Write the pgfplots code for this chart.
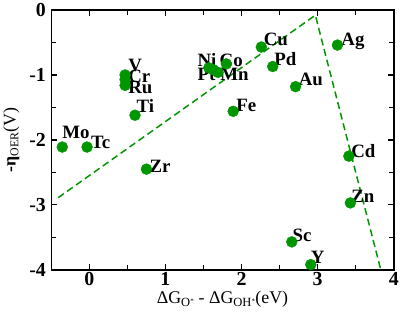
\documentclass[border=0pt]{standalone}
\usepackage{pgfplots}
\pgfplotsset{compat=1.18}
\usepackage{fontspec}
\setmainfont{Liberation Serif}
\definecolor{dgreen}{RGB}{0,150,0}
\pgfplotstableread{
x y
-0.356 -2.11
-0.03 -2.11
0.47 -1.00
0.47 -1.07
0.47 -1.16
0.60 -1.62
0.75 -2.45
1.57 -0.89
1.63 -0.92
1.69 -0.96
1.80 -0.83
1.89 -1.56
2.26 -0.57
2.41 -0.87
2.71 -1.18
3.26 -0.54
3.41 -2.25
3.43 -2.97
2.66 -3.57
2.91 -3.92
}\metals
\begin{document}
\begin{tikzpicture}
\begin{axis}[
  scale only axis, width=344bp, height=261bp,
  xmin=-0.5, xmax=4, ymin=-4, ymax=0,
  xtick={0,1,2,3,4}, ytick={-4,-3,-2,-1,0},
  minor xtick={-0.5,0.5,1.5,2.5,3.5}, minor ytick={-3.5,-2.5,-1.5,-0.5},
  tick align=inside, ticks=both,
  major tick length=6bp, minor tick length=5bp,
  every tick/.style={black, line width=1.2bp},
  axis line style={line width=1.6bp},
  /pgf/number format/assume math mode=true,
  ticklabel style={font=\bfseries\fontsize{20}{22}\selectfont},
  xticklabel style={yshift=1bp},
  yticklabel style={xshift=-2bp},
  label style={font=\fontsize{18}{20}\selectfont},
  xlabel={ΔG\textsubscript{O\raisebox{0.6ex}{\fontsize{7}{7}\selectfont *}} - ΔG\textsubscript{OH\raisebox{0.6ex}{\fontsize{7}{7}\selectfont *}}(eV)},
  ylabel={\textbf{-η}\textsubscript{\fontsize{12}{12}\selectfont OER}(V)},
  xlabel style={yshift=1bp},
  ylabel style={yshift=3bp},
  clip=false,
]
\addplot[dgreen, dashed, line width=1.5bp, dash pattern=on 7bp off 4bp] coordinates {(-0.41,-2.89) (2.97,-0.08) (3.83,-4)};
\addplot[only marks, mark=*, mark size=5.5bp, dgreen, mark options={draw=dgreen, fill=dgreen}] table {\metals};
\begin{scope}[every node/.style={anchor=base west, inner sep=0pt, font=\bfseries\fontsize{19}{20}\selectfont}]
\node at (axis cs:-0.356,-1.98) {Mo};
\node at (axis cs:0.02,-2.13) {Tc};
\node at (axis cs:0.51,-0.95) {V};
\node at (axis cs:0.51,-1.12) {Cr};
\node at (axis cs:0.51,-1.29) {Ru};
\node at (axis cs:0.62,-1.58) {Ti};
\node at (axis cs:0.79,-2.50) {Zr};
\node at (axis cs:1.42,-0.87) {Ni};
\node at (axis cs:1.71,-0.87) {Co};
\node at (axis cs:1.42,-1.09) {Pt};
\node at (axis cs:1.72,-1.09) {Mn};
\node at (axis cs:2.29,-0.55) {Cu};
\node at (axis cs:2.43,-0.86) {Pd};
\node at (axis cs:2.75,-1.16) {Au};
\node at (axis cs:3.31,-0.55) {Ag};
\node at (axis cs:1.93,-1.56) {Fe};
\node at (axis cs:3.44,-2.27) {Cd};
\node at (axis cs:3.44,-2.96) {Zn};
\node at (axis cs:2.67,-3.57) {Sc};
\node at (axis cs:2.91,-3.90) {Y};
\end{scope}
\end{axis}
\end{tikzpicture}
\end{document}
